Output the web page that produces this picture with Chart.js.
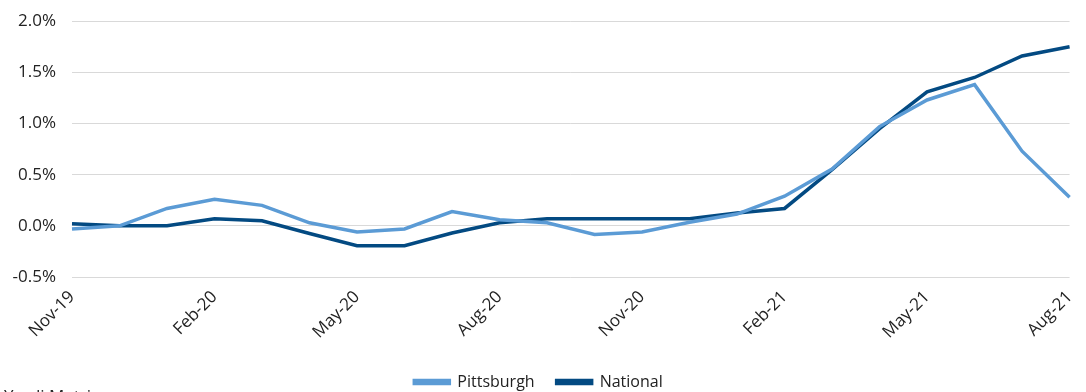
<!DOCTYPE html>
<html>
<head>
<meta charset="utf-8">
<script src="https://cdn.jsdelivr.net/npm/chart.js@4"></script>
<style>
html,body{margin:0;padding:0;background:#fff;overflow:hidden;}
#wrap{position:relative;width:1086px;height:392px;overflow:hidden;}
#c{position:absolute;left:0;top:-5px;}
</style>
</head>
<body>
<div id="wrap"><canvas id="c" width="1086" height="397"></canvas></div>
<script>
const months = ["Nov-19","Dec-19","Jan-20","Feb-20","Mar-20","Apr-20","May-20","Jun-20","Jul-20","Aug-20","Sep-20","Oct-20","Nov-20","Dec-20","Jan-21","Feb-21","Mar-21","Apr-21","May-21","Jun-21","Jul-21","Aug-21"];
const pittsburgh = [-0.03, 0.00, 0.17, 0.26, 0.20, 0.03, -0.06, -0.03, 0.14, 0.06, 0.03, -0.085, -0.06, 0.035, 0.115, 0.29, 0.555, 0.97, 1.23, 1.38, 0.73, 0.28];
const national = [0.02, 0.00, 0.00, 0.07, 0.05, -0.075, -0.195, -0.195, -0.07, 0.03, 0.07, 0.07, 0.07, 0.07, 0.125, 0.17, 0.55, 0.95, 1.31, 1.45, 1.66, 1.75];
const yTicks = [-0.5, 0.0, 0.5, 1.0, 1.5, 2.0];
const sourceText = "Yardi Matrix";

const FONT = "'Open Sans', sans-serif";

const sourcePlugin = {
  id: 'sourceText',
  afterDraw(chart) {
    const ctx = chart.ctx;
    ctx.save();
    ctx.font = "17px " + FONT;
    ctx.fillStyle = "#222";
    ctx.textBaseline = "top";
    ctx.textAlign = "left";
    ctx.fillText(sourceText, 4, chart.height - 3);
    ctx.restore();
  }
};

new Chart(document.getElementById('c'), {
  type: 'line',
  data: {
    labels: months,
    datasets: [
      { label: 'Pittsburgh', data: pittsburgh, borderColor: '#5b9bd5', backgroundColor: '#5b9bd5', borderWidth: 3.5, pointRadius: 0, tension: 0 },
      { label: 'National', data: national, borderColor: '#034a82', backgroundColor: '#034a82', borderWidth: 3.5, pointRadius: 0, tension: 0 }
    ]
  },
  options: {
    responsive: false,
    animation: false,
    layout: { padding: { left: 0, right: 9, top: -1, bottom: -8 } },
    plugins: {
      tooltip: { enabled: false },
      legend: {
        position: 'bottom',
        labels: {
          font: { family: FONT, size: 16 },
          color: '#222',
          boxWidth: 35,
          boxHeight: 3,
          padding: 22
        }
      }
    },
    scales: {
      x: {
        grid: { display: false },
        border: { display: false },
        ticks: {
          autoSkip: false,
          minRotation: 45,
          maxRotation: 45,
          padding: 2,
          color: '#222',
          font: { family: FONT, size: 17 },
          callback: function(v, i) { return i % 3 === 0 ? months[i] : ''; }
        },
        afterFit: function(s) { s.height = 75; }
      },
      y: {
        min: -0.5, max: 2.0,
        grid: { color: '#d9d9d9', lineWidth: 1, drawTicks: false },
        border: { display: false },
        afterBuildTicks: function(s) { s.ticks = yTicks.map(v => ({ value: v })); },
        afterFit: function(s) { s.width = 72; },
        ticks: {
          padding: 16,
          color: '#222',
          font: { family: FONT, size: 17 },
          callback: function(v) { return v.toFixed(1) + '%'; }
        }
      }
    }
  },
  plugins: [sourcePlugin]
});
</script>
</body>
</html>
